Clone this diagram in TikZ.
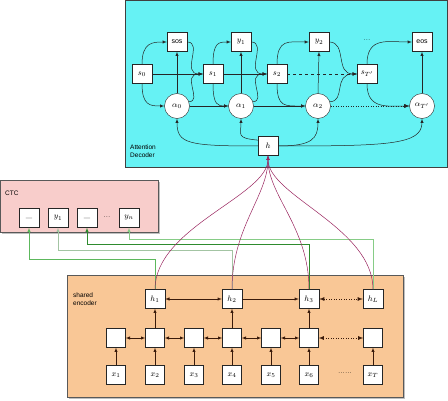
\documentclass[tikz,border=0pt]{standalone}
\usepackage{fontspec}
\setsansfont{Liberation Sans}
\definecolor{decfill}{HTML}{66F2F4}
\definecolor{ctcfill}{HTML}{F8CDCB}
\definecolor{encfill}{HTML}{F9C796}
\definecolor{maroonline}{HTML}{99245E}
\definecolor{encline}{HTML}{3A1A0A}
\definecolor{ctcgreenA}{HTML}{5DB85D}
\definecolor{ctcgreenB}{HTML}{A3C4A3}
\definecolor{ctcgreenC}{HTML}{2E8B2E}
\definecolor{ctcgreenD}{HTML}{86CC86}

\tikzset{
	cell/.style={draw=black!85, fill=white, minimum width=20pt, minimum height=19pt, inner sep=0pt, font=\footnotesize},
	attn/.style={draw=black!85, fill=white, circle, minimum size=25pt, inner sep=0pt, font=\footnotesize},
	arr/.style={-latex, draw=black!85, line width=0.5pt},
	encarr/.style={-latex, draw=encline, line width=0.5pt},
	encboth/.style={latex-latex, draw=encline, line width=0.5pt},
	hidarr/.style={-latex, draw=maroonline, line width=0.5pt},
	ctcarr/.style={-latex, line width=0.5pt},
	areatext/.style={font=\sffamily\fontsize{6.5}{7.5}\selectfont, align=left, anchor=west, inner sep=0pt}
}

\begin{document}
\begin{tikzpicture}[x=1pt,y=-1pt]
	\useasboundingbox (0,0) rectangle (448,401);
	
	%%% Области
	
	\draw[draw=black!75, fill=decfill] (125,0.5) rectangle (447,167);
	\fill[black!25] (2,182) rectangle (160,234);
	\draw[draw=black!65, fill=ctcfill] (0.5,180) rectangle (158,232);
	\fill[black!25] (69,277) rectangle (405,399);
	\draw[draw=black!65, fill=encfill] (67,275) rectangle (403,397);
	
	\node[areatext] (declabel) at (130,151) {Attention\\Decoder};
	\node[areatext] (ctclabel) at (5,193) {CTC};
	\node[areatext] (enclabel) at (73,299) {shared\\encoder};
	
	%%% Декодер
	
	\node[cell, font=\sffamily\scriptsize] (sos) at (177,42) {sos};
	\node[cell] (y1) at (241,42) {$y_1$};
	\node[cell] (y2) at (319,42) {$y_2$};
	\node[font=\scriptsize] (ydots) at (367,40) {...};
	\node[cell, font=\sffamily\scriptsize] (eos) at (422,42) {eos};
	
	\node[cell] (s0) at (142,74) {$s_0$};
	\node[cell] (s1) at (213,74) {$s_1$};
	\node[cell] (s2) at (277,74) {$s_2$};
	\node[cell] (sT) at (367,74) {$s_{T'}$};
	
	\node[attn] (a0) at (177,106) {$\alpha_0$};
	\node[attn] (a1) at (241,106) {$\alpha_1$};
	\node[attn] (a2) at (318,106) {$\alpha_2$};
	\node[attn] (aT) at (422,106) {$\alpha_{T'}$};
	
	\node[cell] (h) at (268,146) {$h$};
	
	% Состояния
	\draw[arr] (s0.east) -- (s1.west);
	\draw[arr] (s1.east) -- (s2.west);
	\draw[arr, dashed] (s2.east) -- (sT.west);
	
	% Внимание
	\draw[arr] (a0.east) -- (a1.west);
	\draw[arr] (a1.east) -- (a2.west);
	\draw[arr, dotted, thick] (a2.east) -- (aT.west);
	
	\draw[arr] (a0.north) -- (sos.south);
	\draw[arr] (a1.north) -- (y1.south);
	\draw[arr] (a2.north) -- (y2.south);
	\draw[arr] (aT.north) -- (eos.south);
	
	% Из состояний вверх и вниз
	\draw[arr] (s0.north) .. controls +(0,-22) and +(-14,0) .. (sos.west);
	\draw[arr] (s0.south) .. controls +(0,22) and +(-14,0) .. (a0.west);
	\draw[arr] (s1.north) .. controls +(0,-22) and +(-12,0) .. (y1.west);
	\draw[arr] (s1.south) .. controls +(0,22) and +(-10,0) .. (a1.west);
	\draw[arr] (s2.north) .. controls +(0,-26) and +(-20,0) .. (y2.west);
	\draw[arr] (s2.south) .. controls +(0,24) and +(-20,0) .. (a2.west);
	\draw[arr] (sT.north) .. controls +(0,-28) and +(-24,0) .. (eos.west);
	\draw[arr] (sT.south) .. controls +(0,26) and +(-22,0) .. (aT.west);
	
	% В следующее состояние
	\draw[arr] (sos.east) .. controls +(16,0) and +(-22,0) .. (s1.west);
	\draw[arr] (a0.20) .. controls +(14,0) and +(-22,0) .. (s1.west);
	\draw[arr] (y1.east) .. controls +(16,0) and +(-22,0) .. (s2.west);
	\draw[arr] (a1.20) .. controls +(14,0) and +(-22,0) .. (s2.west);
	\draw[arr] (y2.east) .. controls +(18,0) and +(-22,0) .. (sT.west);
	\draw[arr] (a2.20) .. controls +(16,0) and +(-24,0) .. (sT.west);
	
	% Из h во внимание
	\draw[arr] (h.west) .. controls +(-70,0) and +(0,25) .. (a0.south);
	\draw[arr] (h.150) .. controls +(-22,-2) and +(0,16) .. (a1.south);
	\draw[arr] (h.east) .. controls +(34,0) and +(0,20) .. (a2.south);
	\draw[arr] (h.east) .. controls +(110,0) and +(0,26) .. (aT.south);
	
	%%% CTC
	
	\node[cell] (b1) at (29,218) {\_};
	\node[cell] (c1) at (58,218) {$y_1$};
	\node[cell] (b2) at (87,218) {\_};
	\node[font=\scriptsize] (cdots) at (107,217) {...};
	\node[cell] (cn) at (129,218) {$y_n$};
	
	%%% Кодер
	
	\foreach \i/\x in {1/116,2/155,3/194,4/232,5/271,6/309,7/373} {
		\node[cell, minimum width=19pt] (m\i) at (\x,338) {};
	}
	\foreach \i/\x in {1/116,2/155,3/194,4/232,5/271,6/309} {
		\node[cell, minimum width=19pt] (x\i) at (\x,375) {$x_\i$};
		\draw[encarr] (x\i.north) -- (m\i.south);
	}
	\node[cell, minimum width=19pt] (x7) at (373,375) {$x_T$};
	\draw[encarr] (x7.north) -- (m7.south);
	\node[font=\scriptsize] (xdots) at (345,373) {......};
	
	\node[cell] (h1) at (155,299) {$h_1$};
	\node[cell] (h2) at (232,299) {$h_2$};
	\node[cell] (h3) at (309,299) {$h_3$};
	\node[cell] (hL) at (373,299) {$h_L$};
	
	\foreach \a/\b in {1/2,2/3,3/4,4/5,5/6} {
		\draw[encboth] (m\a.east) -- (m\b.west);
	}
	\draw[encboth, dotted, thick] (m6.east) -- (m7.west);
	
	\draw[encarr] (m2.north) -- (h1.south);
	\draw[encarr] (m4.north) -- (h2.south);
	\draw[encarr] (m6.north) -- (h3.south);
	
	\draw[encboth] (h1.east) -- (h2.west);
	\draw[encarr] (h2.east) -- (h3.west);
	\draw[encboth, dotted, thick] (h3.east) -- (hL.west);
	
	%%% Связи между блоками
	
	% В CTC
	\draw[ctcarr, draw=ctcgreenA] (h1.north) -- ++(0,-30) -| (b1.south);
	\draw[ctcarr, draw=ctcgreenB] (h2.north) -- ++(0,-39) -| (c1.south);
	\draw[ctcarr, draw=ctcgreenC] (h3.north) -- ++(0,-45) -| (b2.south);
	\draw[ctcarr, draw=ctcgreenD] (hL.north) -- ++(0,-50) -| (cn.south);
	
	% В декодер
	\draw[hidarr] (h1.north) .. controls +(0,-62) and +(0,40) .. (h.south);
	\draw[hidarr] (h2.north) .. controls +(0,-62) and +(0,40) .. (h.south);
	\draw[hidarr] (h3.north) .. controls +(0,-62) and +(0,40) .. (h.south);
	\draw[hidarr] (hL.north) .. controls +(0,-62) and +(0,40) .. (h.south);
\end{tikzpicture}
\end{document}
